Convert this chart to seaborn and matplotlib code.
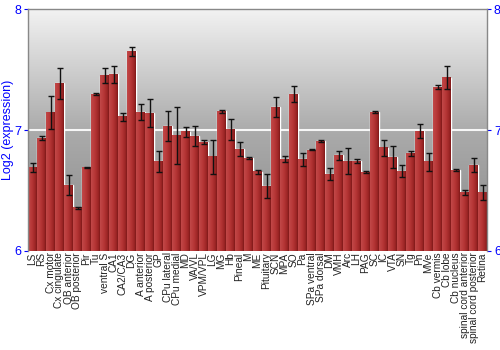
import numpy as np
import pandas as pd
import matplotlib
matplotlib.use("Agg")
import matplotlib.pyplot as plt
import seaborn as sns
from matplotlib.colors import LinearSegmentedColormap

regions = ["LS", "RS", "Cx motor", "Cx cingulate", "OB anterior", "OB posterior", "Pir", "Tu",
           "ventral S", "CA1", "CA2/CA3", "DG", "A anterior", "A posterior", "GP", "CPu lateral",
           "CPu medial", "MD", "VA/VL", "VPM/VPL", "LG", "MG", "Hb", "Pineal", "M", "ME",
           "Pituitary", "SCN", "MPA", "SO", "Pa", "SPa ventral", "SPa dorsal", "DM", "VMH", "Arc",
           "LH", "PAG", "SC", "IC", "VTA", "SN", "Tg", "Pn", "MVe", "Cb vermis", "Cb lobe",
           "Cb nucleus", "spinal cord anterior", "spinal cord posterior", "Retina"]

expression = [6.69, 6.934, 7.143, 7.386, 6.543, 6.358, 6.69, 7.295,
              7.449, 7.46, 7.11, 7.653, 7.149, 7.14, 6.741, 7.033,
              6.953, 6.986, 6.95, 6.90, 6.78, 7.154, 7.005, 6.843, 6.769, 6.656,
              6.537, 7.19, 6.76, 7.298, 6.758, 6.835, 6.906, 6.634, 6.793, 6.744,
              6.744, 6.653, 7.149, 6.854, 6.774, 6.658, 6.807, 6.99, 6.736, 7.355, 7.432,
              6.667, 6.482, 6.711, 6.482]

errors = [0.035, 0.02, 0.136, 0.128, 0.083, 0.008, 0.004, 0.008,
          0.06, 0.069, 0.032, 0.037, 0.067, 0.118, 0.088, 0.122,
          0.238, 0.04, 0.083, 0.016, 0.14, 0.015, 0.085, 0.055, 0.012, 0.017,
          0.10, 0.083, 0.022, 0.069, 0.055, 0.004, 0.008, 0.05, 0.037, 0.107,
          0.019, 0.005, 0.01, 0.067, 0.092, 0.05, 0.018, 0.06, 0.073, 0.017, 0.094,
          0.008, 0.023, 0.056, 0.06]

yticks = [6, 7, 8]

sns.set_style("white")
plt.rcParams["font.family"] = ["Liberation Sans", "DejaVu Sans"]

n = len(regions)
fig = plt.figure(figsize=(5, 3.5), dpi=100)
ax = fig.add_axes([0.056, 0.283, 0.918, 0.691])

df = pd.DataFrame({"region": regions, "expr": expression})
sns.barplot(data=df, x="region", y="expr", color="#b03030", width=0.9,
            saturation=1, errorbar=None, ax=ax)

# background gradient
bgcmap = LinearSegmentedColormap.from_list(
    "bg", [(0.0, "#888888"), (0.5, "#ababab"), (1.0, "#f2f2f2")])
bg = np.linspace(0, 1, 256).reshape(-1, 1)
ax.imshow(bg, extent=[-0.5, n - 0.5, 6, 8], origin="lower", aspect="auto",
          cmap=bgcmap, zorder=0)
ax.axhline(7, color="white", lw=1.5, alpha=0.9, zorder=0.5)

# bar shading
barcmap = LinearSegmentedColormap.from_list(
    "bar", [(0.0, "#c24848"), (0.45, "#b63636"), (0.85, "#9a2424"), (1.0, "#7e1a1a")])
grad = np.linspace(0, 1, 32).reshape(1, -1)
centers = []
for p in ax.patches:
    x0, w, h = p.get_x(), p.get_width(), p.get_height()
    p.set_zorder(1)
    ax.imshow(grad, extent=[x0, x0 + w, 6, h], origin="lower", aspect="auto",
              cmap=barcmap, zorder=1.5)
    centers.append(x0 + w / 2)

ax.errorbar(centers, expression, yerr=errors, fmt="none", ecolor="#111111",
            elinewidth=1, capsize=2, capthick=1, zorder=3)

ax.set_xlim(-0.5, n - 0.5)
ax.set_ylim(6, 8)
ax.set_yticks(yticks)
ax.set_yticklabels([str(t) for t in yticks])
ax.tick_params(axis="y", left=True, right=True, labelleft=True, labelright=True,
               labelcolor="blue", color="blue", labelsize=9, length=3, pad=2)
for t in ax.yaxis.get_major_ticks():
    t.tick2line.set_color("#666666")
ax.set_ylabel("Log2 (expression)", color="blue", fontsize=9)
ax.yaxis.set_label_coords(-0.031, 0.5)

ax.set_xticks(range(n))
ax.set_xticklabels(regions, rotation=90, fontsize=7.3, color="#222222")
ax.tick_params(axis="x", length=0, pad=1)
ax.set_xlabel("")

for side in ["left", "top", "right"]:
    ax.spines[side].set_color("#888888")
    ax.spines[side].set_linewidth(1)
    ax.spines[side].set_visible(True)
ax.spines["bottom"].set_visible(False)

fig.savefig("out.png", dpi=100)
